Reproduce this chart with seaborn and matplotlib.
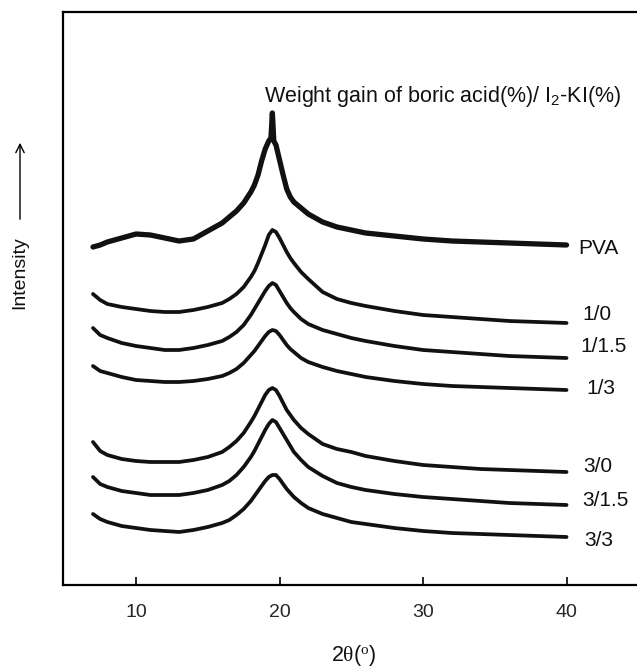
import matplotlib
matplotlib.use("Agg")
import matplotlib.pyplot as plt
import seaborn as sns
import pandas as pd

# ---- data (2theta in degrees, intensity in arbitrary units incl. vertical offsets) ----
two_theta = [7, 7.5, 8, 9, 10, 11, 12, 13, 14, 15, 16, 16.5, 17, 17.5, 18, 18.25, 18.5, 18.75, 19, 19.25,
             19.5, 19.75, 20, 20.25, 20.5, 20.75, 21, 21.5, 22, 23, 24, 25, 26, 28, 30, 32, 34, 36, 38, 40]
pva_theta = [7, 7.5, 8, 9, 10, 11, 12, 13, 14, 15, 16, 16.5, 17, 17.5, 18, 18.25, 18.5, 18.75, 19, 19.25,
             19.4, 19.5, 19.6, 19.75, 20, 20.25, 20.5, 20.75, 21, 21.5, 22, 23, 24, 25, 26, 28, 30, 32, 34,
             36, 38, 40]

int_pva = [338, 340, 343, 347, 351, 350, 347, 344, 346, 354, 362, 368, 374, 382, 393, 400, 410, 424, 436, 444,
           447, 472, 444, 440, 425, 410, 396, 388, 383, 377, 371, 363, 358, 355, 352, 349, 346, 344, 343,
           342, 341, 340]
int_1_0 = [291, 285, 281, 278, 276, 274, 273, 273, 275, 278, 282, 286, 291, 298, 308, 314, 322, 331, 340, 350,
           355, 353, 347, 340, 333, 327, 322, 313, 306, 293, 286, 282, 279, 274, 270, 268, 266, 264, 263, 262]
int_1_15 = [257, 250, 247, 242, 239, 237, 235, 235, 237, 240, 244, 248, 253, 260, 270, 276, 282, 288, 294, 299,
            302, 300, 294, 288, 282, 277, 273, 266, 261, 255, 251, 247, 244, 239, 235, 233, 231, 229, 228, 227]
int_1_3 = [219, 214, 212, 208, 205, 204, 203, 203, 204, 206, 209, 212, 216, 222, 230, 234, 239, 244, 249, 253,
           255, 254, 250, 245, 240, 236, 233, 227, 223, 218, 214, 211, 208, 204, 201, 199, 198, 197, 196, 195]
int_3_0 = [143, 134, 130, 126, 124, 123, 123, 123, 125, 128, 133, 138, 144, 152, 163, 169, 176, 183, 190, 195,
           197, 195, 189, 182, 175, 170, 165, 157, 151, 141, 136, 133, 129, 124, 120, 118, 116, 115, 114, 113]
int_3_15 = [108, 101, 98, 94, 92, 90, 90, 90, 92, 95, 100, 104, 110, 118, 128, 134, 141, 148, 155, 161,
            165, 163, 157, 151, 145, 139, 133, 125, 118, 109, 102, 98, 95, 91, 88, 86, 84, 82, 81, 80]
int_3_3 = [71, 66, 63, 59, 57, 55, 54, 53, 55, 58, 62, 65, 70, 76, 84, 89, 94, 99, 104, 108,
           110, 110, 106, 101, 96, 92, 88, 82, 77, 71, 67, 63, 61, 57, 54, 52, 51, 50, 49, 48]

series_labels = ["PVA", "1/0", "1/1.5", "1/3", "3/0", "3/1.5", "3/3"]
series_theta = [pva_theta] + [two_theta] * 6
series_values = [int_pva, int_1_0, int_1_15, int_1_3, int_3_0, int_3_15, int_3_3]
x_ticks = [10, 20, 30, 40]

# ---- layout (label anchor positions, in data coords) ----
label_x = [40.8, 41.1, 40.95, 41.4, 41.15, 41.1, 41.2]
label_y = [337, 270, 238, 196, 119, 85, 45]
line_widths = [3.8, 2.7, 2.7, 2.7, 2.7, 2.7, 2.7]

rows = []
for name, th, vals in zip(series_labels, series_theta, series_values):
    for t, v in zip(th, vals):
        rows.append({"two_theta": t, "intensity": v, "sample": name})
df = pd.DataFrame(rows)

sns.set_style("ticks")
plt.rcParams["font.family"] = ["Liberation Sans", "DejaVu Sans"]
plt.rcParams["mathtext.fontset"] = "custom"
plt.rcParams["mathtext.rm"] = "Liberation Serif"
plt.rcParams["mathtext.sf"] = "Liberation Sans"
plt.rcParams["mathtext.it"] = "Liberation Serif:italic"

fig = plt.figure(figsize=(6.37, 6.66), dpi=100)
ax = fig.add_axes([63 / 637, 81 / 666, 1 - 63 / 637, 573 / 666])

for name, lw in zip(series_labels, line_widths):
    sub = df[df["sample"] == name]
    sns.lineplot(data=sub, x="two_theta", y="intensity", color="#111111", lw=lw,
                 ax=ax, legend=False, errorbar=None, solid_joinstyle="round")

for name, lx, ly in zip(series_labels, label_x, label_y):
    ax.text(lx, ly, name, fontsize=15, ha="left", va="center", color="#111111")

ax.text(18.9, 483, r"Weight gain of boric acid(%)/ I$_\mathsf{2}$-KI(%)", fontsize=15.5,
        ha="left", va="baseline", color="#111111")

ax.set_xlim(4.91, 44.91)
ax.set_ylim(0, 573)
ax.set_xticks(x_ticks)
ax.set_xticklabels([str(t) for t in x_ticks])
ax.set_yticks([])
ax.tick_params(axis="x", direction="in", length=6, width=1.4, labelsize=14, pad=14)
for s in ["left", "bottom", "top"]:
    ax.spines[s].set_linewidth(1.6)
    ax.spines[s].set_color("black")
ax.spines["right"].set_visible(False)

ax.set_xlabel("")
ax.set_ylabel("")
fig.text(354 / 637, 1 - 655 / 666, r"2$\mathrm{\theta}$($^{\mathrm{o}}$)", fontsize=15.5,
         ha="center", va="center", color="#111111")

fig.text(20 / 637, 1 - 273 / 666, "Intensity", rotation=90, fontsize=14,
         ha="center", va="center", color="#111111")
fig.patches.append(matplotlib.patches.FancyArrowPatch(
    (20 / 637, 1 - 222 / 666), (20 / 637, 1 - 140 / 666), transform=fig.transFigure,
    arrowstyle="->,head_length=6,head_width=3", color="black", lw=1.0))

fig.savefig("out.png", dpi=100)
